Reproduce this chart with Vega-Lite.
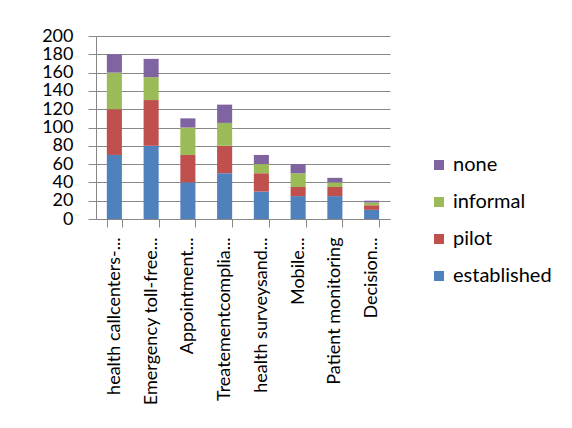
{
  "$schema": "https://vega.github.io/schema/vega-lite/v6.json",
  "autosize": {"type": "none"},
  "padding": {"left": 96, "top": 36, "right": 182, "bottom": 209},
  "width": 294,
  "height": 183,
  "background": "white",
  "data": {
    "values": [
      {"activity": "health callcenters-...", "status": "established", "count": 70},
      {"activity": "health callcenters-...", "status": "pilot", "count": 50},
      {"activity": "health callcenters-...", "status": "informal", "count": 40},
      {"activity": "health callcenters-...", "status": "none", "count": 20},
      {"activity": "Emergency toll-free...", "status": "established", "count": 80},
      {"activity": "Emergency toll-free...", "status": "pilot", "count": 50},
      {"activity": "Emergency toll-free...", "status": "informal", "count": 25},
      {"activity": "Emergency toll-free...", "status": "none", "count": 20},
      {"activity": "Appointment...", "status": "established", "count": 40},
      {"activity": "Appointment...", "status": "pilot", "count": 30},
      {"activity": "Appointment...", "status": "informal", "count": 30},
      {"activity": "Appointment...", "status": "none", "count": 10},
      {"activity": "Treatementcomplia...", "status": "established", "count": 50},
      {"activity": "Treatementcomplia...", "status": "pilot", "count": 30},
      {"activity": "Treatementcomplia...", "status": "informal", "count": 25},
      {"activity": "Treatementcomplia...", "status": "none", "count": 20},
      {"activity": "health surveysand...", "status": "established", "count": 30},
      {"activity": "health surveysand...", "status": "pilot", "count": 20},
      {"activity": "health surveysand...", "status": "informal", "count": 10},
      {"activity": "health surveysand...", "status": "none", "count": 10},
      {"activity": "Mobile...", "status": "established", "count": 25},
      {"activity": "Mobile...", "status": "pilot", "count": 10},
      {"activity": "Mobile...", "status": "informal", "count": 15},
      {"activity": "Mobile...", "status": "none", "count": 10},
      {"activity": "Patient monitoring", "status": "established", "count": 25},
      {"activity": "Patient monitoring", "status": "pilot", "count": 10},
      {"activity": "Patient monitoring", "status": "informal", "count": 5},
      {"activity": "Patient monitoring", "status": "none", "count": 5},
      {"activity": "Decision...", "status": "established", "count": 10},
      {"activity": "Decision...", "status": "pilot", "count": 5},
      {"activity": "Decision...", "status": "informal", "count": 3},
      {"activity": "Decision...", "status": "none", "count": 2}
    ]
  },
  "transform": [
    {"calculate": "indexof(['established','pilot','informal','none'], datum.status)", "as": "stackOrder"}
  ],
  "mark": {"type": "bar"},
  "encoding": {
    "x": {
      "field": "activity",
      "type": "nominal",
      "sort": null,
      "scale": {"paddingInner": 0.59, "paddingOuter": 0.295},
      "axis": {
        "title": null,
        "labelAngle": -90,
        "labelAlign": "right",
        "labelBaseline": "middle",
        "labelFont": "Lato",
        "labelFontSize": 18,
        "labelColor": "#000000",
        "labelPadding": 10,
        "labelLimit": 300,
        "labelOverlap": false,
        "tickBand": "extent",
        "tickSize": 8,
        "tickColor": "#888888",
        "domainColor": "#888888",
        "grid": false
      }
    },
    "y": {
      "field": "count",
      "type": "quantitative",
      "stack": "zero",
      "scale": {"domain": [0, 200], "nice": false},
      "axis": {
        "title": null,
        "values": [0, 20, 40, 60, 80, 100, 120, 140, 160, 180, 200],
        "labelFont": "Lato",
        "labelFontSize": 18,
        "labelColor": "#000000",
        "labelPadding": 15,
        "labelOverlap": false,
        "labelBound": false,
        "tickSize": 8,
        "tickColor": "#888888",
        "domainColor": "#888888",
        "gridColor": "#888888",
        "gridOpacity": 1
      }
    },
    "color": {
      "field": "status",
      "type": "nominal",
      "scale": {
        "domain": ["none", "informal", "pilot", "established"],
        "range": ["#8064A2", "#9BBB59", "#C0504D", "#4F81BD"]
      },
      "legend": {
        "title": null,
        "orient": "none",
        "legendX": 333,
        "legendY": 119,
        "padding": 0,
        "symbolType": "square",
        "symbolSize": 100,
        "symbolStrokeWidth": 0,
        "labelFont": "Lato",
        "labelFontSize": 20,
        "labelColor": "#000000",
        "labelOffset": 4,
        "rowPadding": 17
      }
    },
    "order": {"field": "stackOrder", "type": "quantitative"}
  },
  "config": {
    "view": {"stroke": null}
  }
}
